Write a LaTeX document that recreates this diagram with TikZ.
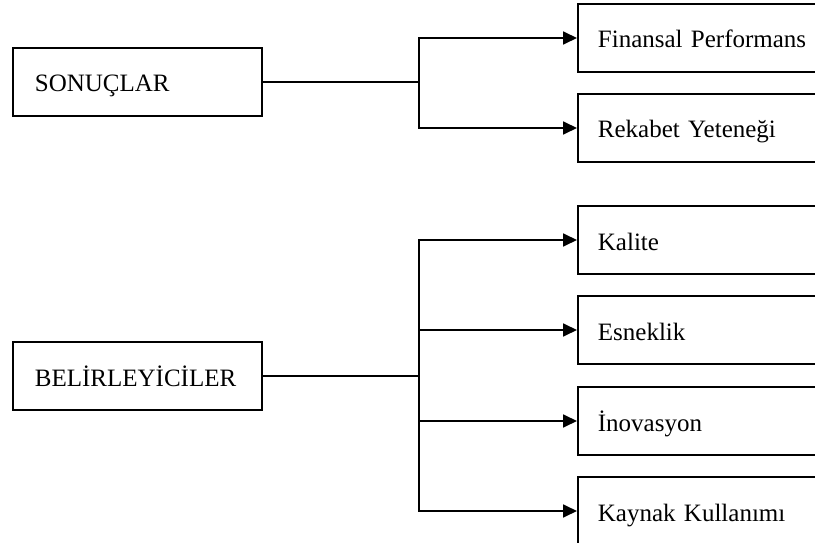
\documentclass[tikz,border=0pt]{standalone}
\usepackage{fontspec}
\setmainfont{Liberation Serif}
\usetikzlibrary{arrows.meta}

\begin{document}
\begin{tikzpicture}[x=1pt,y=-1pt,
      line width=1.8pt,
      font=\fontsize{25}{28}\selectfont,
      kutu/.style={draw,anchor=west,minimum height=68pt,
        inner ysep=0pt,text height=24pt,text depth=4pt,align=left},
      sol/.style={kutu,inner xsep=22pt,text width=205pt},
      sag/.style={kutu,inner xsep=20pt,text width=218pt},
      ok/.style={-{Triangle[length=14pt,width=13pt]}}]
      \useasboundingbox (0,0) rectangle (815,543);
      \clip (0,0) rectangle (815,543);
      % sonuclar
      \node[sol] (son) at (12,82) {SONUÇLAR};
      \node[sag] (fin) at (577,38) {Finansal Performans};
      \node[sag] (rek) at (577,128) {Rekabet Yeteneği};
      \coordinate (sj) at (419,0 |- son.east);
      \draw (son.east) -- (sj);
      \draw[ok] (sj) |- (fin.west);
      \draw[ok] (sj) |- (rek.west);
      % belirleyiciler
      \node[sol] (bel) at (12,376) {BELİRLEYİCİLER};
      \node[sag] (kal) at (577,240) {Kalite};
      \node[sag] (esn) at (577,330) {Esneklik};
      \node[sag] (ino) at (577,421) {İnovasyon};
      \node[sag] (kay) at (577,511) {Kaynak Kullanımı};
      \coordinate (bj) at (419,0 |- bel.east);
      \draw (bel.east) -- (bj);
      \foreach \n in {kal,esn,ino,kay}
        \draw[ok] (bj) |- (\n.west);
    \end{tikzpicture}
\end{document}
